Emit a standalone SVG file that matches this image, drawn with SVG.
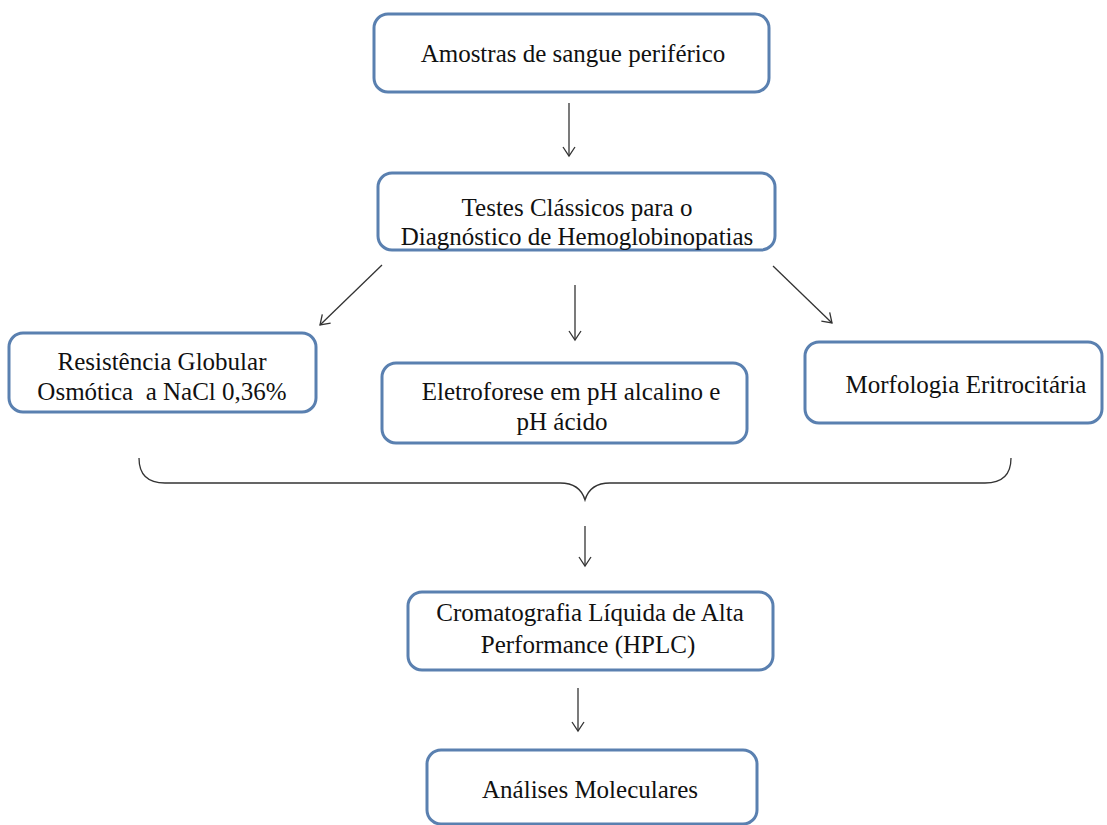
<svg xmlns="http://www.w3.org/2000/svg" width="1107" height="825" viewBox="0 0 1107 825">
<style>
.box{fill:#fff;stroke:#5a80b0;stroke-width:3}
.t{font-family:"Liberation Serif","Times New Roman",serif;font-size:25px;fill:#111;text-anchor:middle;white-space:pre}
.c{fill:none;stroke:#333;stroke-width:1.3}
</style>
<defs>
<marker id="ah" markerWidth="14" markerHeight="14" refX="10" refY="7" orient="auto" markerUnits="userSpaceOnUse">
<path d="M1,1 L10,7 L1,13" fill="none" stroke="#333" stroke-width="1.3"/>
</marker>
</defs>
<rect width="1107" height="825" fill="#fff"/>
<g id="n1"><rect class="box" x="374" y="14" width="395" height="78" rx="14"/><text class="t" x="573" y="62">Amostras de sangue periférico</text></g>
<g id="n2"><rect class="box" x="378" y="173" width="397" height="77" rx="14"/><text class="t" x="577" y="216">Testes Clássicos para o</text><text class="t" x="577" y="245">Diagnóstico de Hemoglobinopatias</text></g>
<g id="n3"><rect class="box" x="9" y="333" width="307" height="79" rx="14"/><text class="t" x="162" y="370">Resistência Globular</text><text class="t" x="162" y="400" xml:space="preserve">Osmótica  a NaCl 0,36%</text></g>
<g id="n4"><rect class="box" x="382" y="363" width="365" height="80" rx="14"/><text class="t" x="571" y="400">Eletroforese em pH alcalino e</text><text class="t" x="562" y="430">pH ácido</text></g>
<g id="n5"><rect class="box" x="805" y="342" width="297" height="81" rx="14"/><text class="t" x="966" y="393">Morfologia Eritrocitária</text></g>
<g id="n6"><rect class="box" x="408" y="592" width="365" height="78" rx="14"/><text class="t" x="590" y="621">Cromatografia Líquida de Alta</text><text class="t" x="588" y="653">Performance (HPLC)</text></g>
<g id="n7"><rect class="box" x="427" y="750" width="330" height="74" rx="14"/><text class="t" x="590" y="798">Análises Moleculares</text></g>
<g id="connectors">
<line class="c" x1="569" y1="103" x2="569" y2="156" marker-end="url(#ah)"/>
<line class="c" x1="382" y1="265" x2="320" y2="325" marker-end="url(#ah)"/>
<line class="c" x1="575" y1="285" x2="575" y2="340" marker-end="url(#ah)"/>
<line class="c" x1="773" y1="266" x2="832" y2="323" marker-end="url(#ah)"/>
<path class="c" d="M139,458 Q139,483 165,483 L560,483 Q580,483 585,500 Q590,483 610,483 L985,483 Q1011,483 1011,458"/>
<line class="c" x1="585" y1="526" x2="585" y2="566" marker-end="url(#ah)"/>
<line class="c" x1="578" y1="688" x2="578" y2="731" marker-end="url(#ah)"/>
</g>
</svg>
